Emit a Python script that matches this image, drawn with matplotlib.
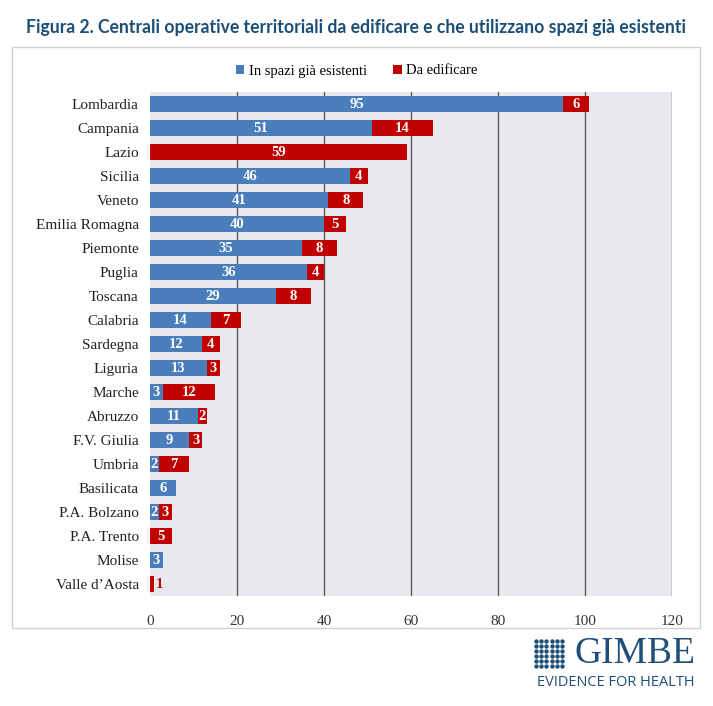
import numpy as np
import matplotlib.pyplot as plt
from matplotlib.patches import Rectangle

# dati
regioni = ["Lombardia", "Campania", "Lazio", "Sicilia", "Veneto", "Emilia Romagna",
           "Piemonte", "Puglia", "Toscana", "Calabria", "Sardegna", "Liguria",
           "Marche", "Abruzzo", "F.V. Giulia", "Umbria", "Basilicata",
           "P.A. Bolzano", "P.A. Trento", "Molise", "Valle d\u2019Aosta"]
esistenti = [95, 51, 0, 46, 41, 40, 35, 36, 29, 14, 12, 13, 3, 11, 9, 2, 6, 2, 0, 3, 0]
edificare = [6, 14, 59, 4, 8, 5, 8, 4, 8, 7, 4, 3, 12, 2, 3, 7, 0, 3, 5, 0, 1]
ticks_x = [0, 20, 40, 60, 80, 100, 120]

BLU = "#4a7ebb"
ROSSO = "#c00000"
SERIF = "Liberation Serif"

fig = plt.figure(figsize=(7.13, 7.06), dpi=100)

# cornice esterna
fig.patches.append(Rectangle((12 / 713, 1 - 628 / 706), 688 / 713, 581 / 706,
                             transform=fig.transFigure, fill=False,
                             edgecolor="#d0d0d0", linewidth=1))

fig.text(0.5, 1 - 28 / 706,
         "Figura 2. Centrali operative territoriali da edificare e che utilizzano spazi gi\u00e0 esistenti",
         ha="center", va="center", fontsize=12.7, fontweight="bold",
         color="#1b4f78", family="Lato")

ax = fig.add_axes([150 / 713, 1 - 596 / 706, 522 / 713, 504 / 706])
ax.set_facecolor("#e7e9ee")

y = np.arange(len(regioni))
b1 = ax.barh(y, esistenti, height=0.7, color=BLU, label="In spazi gi\u00e0 esistenti", zorder=3)
b2 = ax.barh(y, edificare, left=esistenti, height=0.7, color=ROSSO, label="Da edificare", zorder=3)

# etichette dei valori
for i in range(len(regioni)):
    e, d = esistenti[i], edificare[i]
    if e > 0:
        ax.text(e / 2, i, str(e), ha="center", va="center", color="white",
                fontsize=10.5, fontweight="bold", family=SERIF, zorder=4)
    if d > 1:
        ax.text(e + d / 2, i, str(d), ha="center", va="center", color="white",
                fontsize=10.5, fontweight="bold", family=SERIF, zorder=4)
    elif d == 1:
        ax.text(e + d + 0.4, i, str(d), ha="left", va="center", color=ROSSO,
                fontsize=10.5, fontweight="bold", family=SERIF, zorder=4)

ax.set_xlim(0, 120)
ax.set_ylim(len(regioni) - 0.5, -0.5)
ax.set_xticks(ticks_x)
ax.set_xticklabels([str(t) for t in ticks_x], family=SERIF, fontsize=11, color="#333333")
ax.set_yticks(y)
ax.set_yticklabels(regioni, family=SERIF, fontsize=11, color="#222222")
ax.tick_params(length=0, pad=8)
ax.tick_params(axis="x", pad=14)
for t in ticks_x[1:]:
    ax.axvline(t, color="#595959", linewidth=1, zorder=2)
for s in ax.spines.values():
    s.set_visible(False)

fig.legend(handles=[b1, b2], loc="center", bbox_to_anchor=(0.5, 1 - 71 / 706),
           ncol=2, frameon=False, handlelength=0.6, handleheight=0.6,
           handletextpad=0.3, columnspacing=1.8,
           prop={"family": SERIF, "size": 10.5})

# logo GIMBE
fig.text(695 / 713, 1 - 654 / 706, "GIMBE", ha="right", va="center",
         fontsize=27, color="#1f4e79", family=SERIF)
fig.text(695 / 713, 1 - 683 / 706, "EVIDENCE FOR HEALTH", ha="right", va="center",
         fontsize=10.5, color="#1f4e79", family="Open Sans")
lx = fig.add_axes([533 / 713, 1 - 668 / 706, 32 / 713, 30 / 706])
gx, gy = np.meshgrid(np.arange(6), np.arange(6))
lx.scatter(gx.ravel(), gy.ravel(), s=10, marker="o", color="#1f4e79", linewidths=0)
lx.set_xlim(-0.5, 5.5)
lx.set_ylim(-0.5, 5.5)
lx.axis("off")

fig.savefig("out.png", dpi=100)
